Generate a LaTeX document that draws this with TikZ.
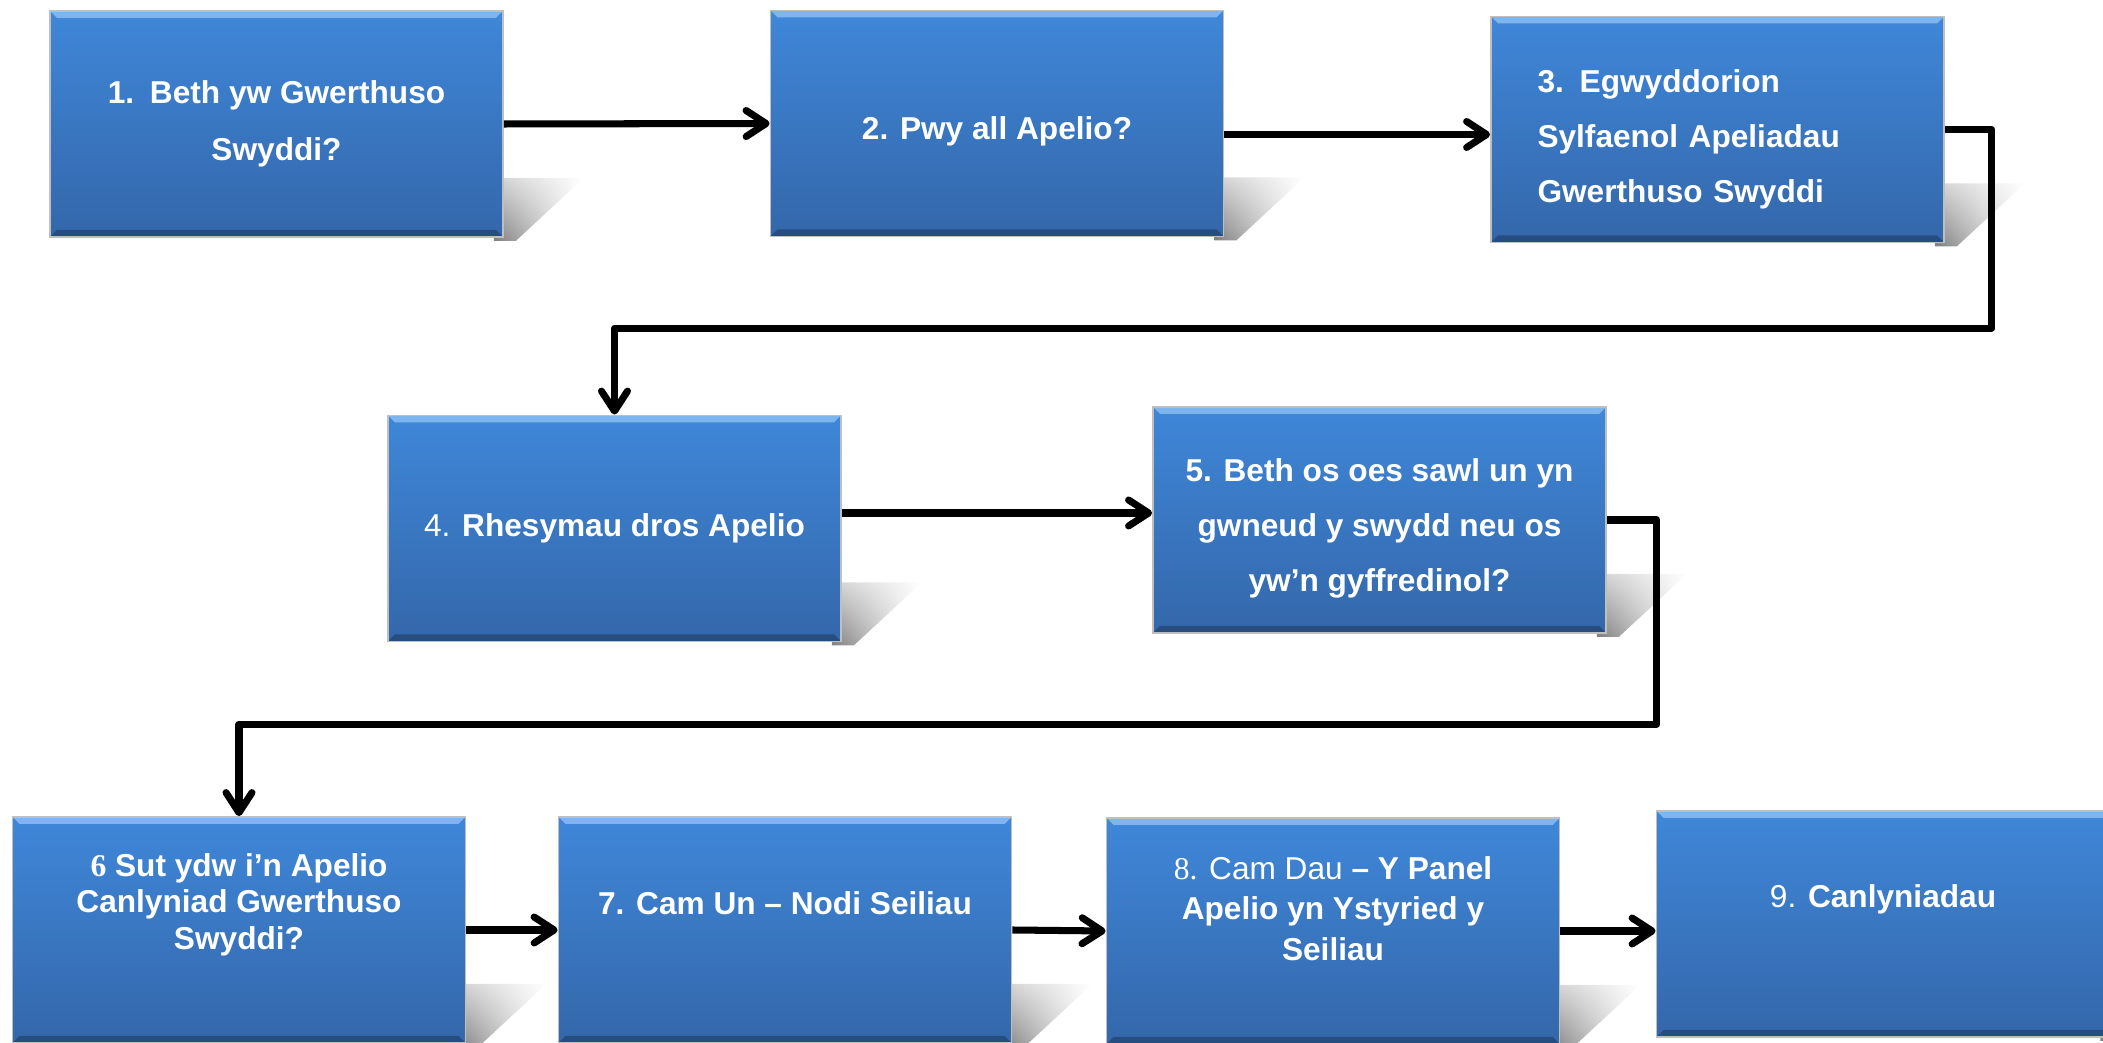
\documentclass[tikz,border=0pt]{standalone}
\usepackage{fontspec}
\setmainfont{Liberation Sans}
\newfontfamily\serifnum{Liberation Serif}
\usepackage{tikz}
\usetikzlibrary{arrows.meta, positioning, backgrounds, fadings}

\definecolor{boxtop}{HTML}{3F87D9}
\definecolor{boxbot}{HTML}{3467AA}
\definecolor{bevel}{HTML}{7DB6EF}

\tikzfading[name=shadowfade, top color=transparent!65, bottom color=transparent!0]

\begin{document}
\begin{tikzpicture}[
		stage/.style={rectangle, draw=black!25, line width=0.5pt, top color=boxtop, bottom color=boxbot,
			minimum width=4.53cm, minimum height=2.26cm, inner sep=0pt, text=white, align=center,
			font=\fontsize{9}{15.6}\selectfont\bfseries,
			path picture={
				\fill[bevel] (path picture bounding box.north west) -- (path picture bounding box.north east)
					-- ([shift={(-0.07,-0.07)}]path picture bounding box.north east) -- ([shift={(0.07,-0.07)}]path picture bounding box.north west) -- cycle;
				\fill[black,opacity=0.25] (path picture bounding box.south west) -- (path picture bounding box.south east)
					-- ([shift={(-0.07,0.07)}]path picture bounding box.south east) -- ([shift={(0.07,0.07)}]path picture bounding box.south west) -- cycle;
			}},
		link/.style={line width=2pt, line join=round, -{Straight Barb[round,length=2mm,width=2.6mm]}},
		dropshadow/.style={left color=black!50, right color=white, path fading=shadowfade},
	]
		\useasboundingbox (0,0) rectangle (21.03,-10.43);
		
		\node[stage, font=\fontsize{9}{16.2}\selectfont\bfseries] (s1) at (2.765,-1.24) {1.\enspace Beth yw Gwerthuso\\Swyddi?};
		\node[stage, text height=0.39cm] (s2) at (9.97,-1.235) {2. Pwy all Apelio?};
		\node[stage, text width=3.6cm, align=left, text height=0.43cm] (s3) at (17.175,-1.295) {3. Egwyddorion\\Sylfaenol Apeliadau\\Gwerthuso Swyddi};
		
		\node[stage] (s4) at (6.145,-5.285) {{\mdseries 4.} Rhesymau dros Apelio};
		\node[stage, text height=1.5cm] (s5) at (13.795,-5.20) {5. Beth os oes sawl un yn\\gwneud y swydd neu os\\yw’n gyffredinol?};
		
		\node[stage, font=\fontsize{9}{10.4}\selectfont\bfseries, text depth=0.57cm] (s6) at (2.39,-9.30) {{\serifnum 6} Sut ydw i’n Apelio\\Canlyniad Gwerthuso\\Swyddi?};
		\node[stage, text depth=0.53cm] (s7) at (7.85,-9.30) {7. Cam Un – Nodi Seiliau};
		\node[stage, font=\fontsize{9}{11.5}\selectfont\bfseries, text depth=0.45cm] (s8) at (13.33,-9.31) {{\serifnum\mdseries 8.} {\mdseries Cam Dau} – Y Panel\\Apelio yn Ystyried y\\Seiliau};
		\node[stage, text depth=0.55cm] (s9) at (18.83,-9.24) {{\mdseries 9.} Canlyniadau};
		
		% shadows behind the boxes
		\begin{scope}[on background layer]
			\foreach \s in {s1,s2,s3,s4,s5,s6,s7,s8,s9}
				\shade[dropshadow]
					([shift={(-0.1,0.6)}]\s.south east) -- ++(0.9,0) -- ([shift={(0.12,-0.03)}]\s.south east) -- ++(-0.22,0) -- cycle;
		\end{scope}
		
		\draw[link] (s1.east) -- (s2.west);
		\draw[link] ([yshift=-0.11cm]s2.east) -- ([yshift=-0.11cm]s2.east -| s3.west);
		\draw[link] (s3.east) -- ++(0.47,0) |- ([yshift=0.865cm]s4.north) -- (s4.north);
		
		\draw[link] ([yshift=0.155cm]s4.east) -- ([yshift=0.155cm]s4.east -| s5.west);
		\draw[link] (s5.east) -- ++(0.5,0) |- ([yshift=0.92cm]s6.north) -- (s6.north);
		
		\draw[link] (s6.east) -- (s7.west);
		\draw[link] (s7.east) -- (s8.west);
		\draw[link] (s8.east) -- (s8.east -| s9.west);
		
	\end{tikzpicture}
\end{document}
